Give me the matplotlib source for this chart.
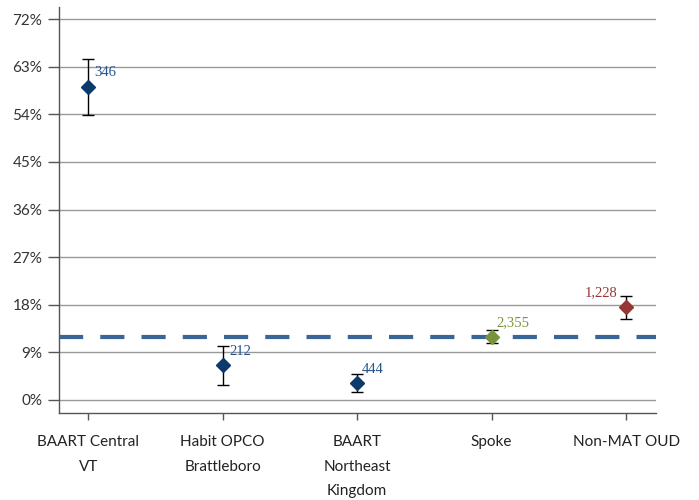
import matplotlib
matplotlib.use("Agg")
import matplotlib.pyplot as plt
from matplotlib.ticker import FuncFormatter

# values (percent)
categories = ["BAART Central\nVT", "Habit OPCO\nBrattleboro", "BAART\nNortheast\nKingdom",
              "Spoke", "Non-MAT OUD"]
rates = [59.2, 6.6, 3.2, 11.9, 17.5]
upper = [64.5, 10.2, 4.9, 13.3, 19.7]
lower = [53.9, 2.9, 1.5, 10.7, 15.3]
counts = ["346", "212", "444", "2,355", "1,228"]
state_avg = 11.9
y_ticks = [0, 9, 18, 27, 36, 45, 54, 63, 72]

marker_colors = ["#0b3a6b", "#0b3a6b", "#0b3a6b", "#77933c", "#953735"]
label_colors = ["#25528a", "#25528a", "#25528a", "#77933c", "#953735"]
# offsets of the count labels in points (dx, dy) and alignment
label_offsets = [(4, 10, "left"), (4.5, 9.5, "left"), (3.5, 9.5, "left"),
                 (3.5, 10.5, "left"), (-6.5, 10.5, "right")]

fig = plt.figure(figsize=(6.99, 5.0), dpi=100)
ax = fig.add_axes([0.0844, 0.174, 0.8536, 0.812])

x = list(range(len(categories)))

ax.axhline(state_avg, color="#3a6599", lw=3, dashes=(5.8, 4.1), zorder=2)

for i in x:
    yerr = [[rates[i] - lower[i]], [upper[i] - rates[i]]]
    ax.errorbar([i], [rates[i]], yerr=yerr, fmt="none", ecolor="black",
                elinewidth=1, capsize=4.5, capthick=1, zorder=3)
    ax.plot([i], [rates[i]], marker="D", ms=7, color=marker_colors[i],
            mec=marker_colors[i], ls="none", zorder=4)
    dx, dy, ha = label_offsets[i]
    ax.annotate(counts[i], (i, rates[i]), xytext=(dx, dy), textcoords="offset points",
                ha=ha, va="center", fontsize=10.5, family="Liberation Serif",
                color=label_colors[i], zorder=5)

ax.set_xlim(-0.218, 4.22)
ax.set_ylim(-2.46, 74.3)
ax.set_yticks(y_ticks)
ax.yaxis.set_major_formatter(FuncFormatter(lambda v, _: f"{v:.0f}%"))
ax.set_xticks(x)
ax.set_xticklabels(categories, linespacing=1.95)

ax.grid(axis="y", color="#999999", lw=1)
ax.set_axisbelow(True)
for side in ["top", "right"]:
    ax.spines[side].set_visible(False)
for side in ["left", "bottom"]:
    ax.spines[side].set_color("#555555")
    ax.spines[side].set_linewidth(1)

ax.tick_params(axis="y", length=8, width=1, color="#555555", pad=4,
               labelsize=11, labelcolor="#333333")
ax.tick_params(axis="x", length=5, width=1, color="#555555", pad=11,
               labelsize=11, labelcolor="#222222")
for lab in ax.get_xticklabels() + ax.get_yticklabels():
    lab.set_family("Lato")

fig.savefig("out.png", dpi=100)
